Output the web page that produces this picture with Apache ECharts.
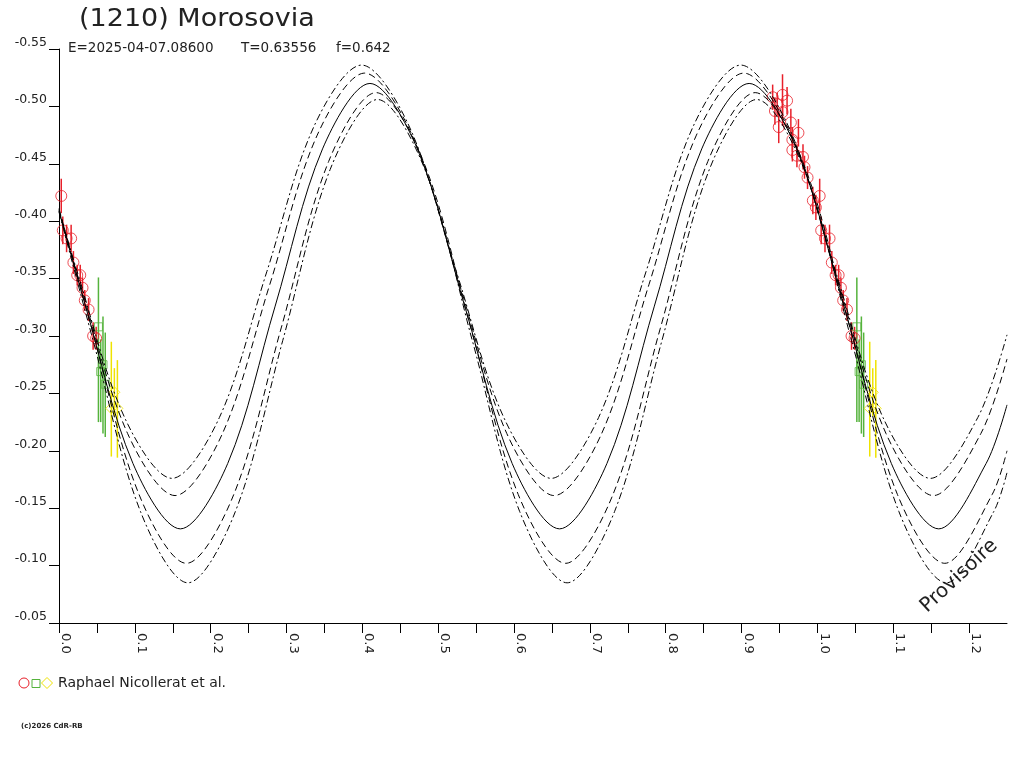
<!DOCTYPE html>
<html>
<head>
<meta charset="utf-8">
<title>(1210) Morosovia</title>
<script src="https://cdn.jsdelivr.net/npm/echarts@6/dist/echarts.min.js"></script>
<style>
    html, body { margin: 0; padding: 0; background: #fff; }
    #chart { width: 1024px; height: 768px; }
</style>
</head>
<body>
<div id="chart"></div>
<script>
// Fitted curves, [phase, mag] (A/E dash-dot, B/D dashed, C solid)
const fitA = [[0, -0.410], [0.024, -0.356], [0.0865, -0.229], [0.149, -0.176], [0.2115, -0.229], [0.274, -0.356],
    [0.3365, -0.483], [0.399, -0.536], [0.4615, -0.483], [0.524, -0.356], [0.5865, -0.229], [0.649, -0.176],
    [0.7115, -0.229], [0.774, -0.356], [0.8365, -0.483], [0.899, -0.536], [0.9615, -0.483], [1.024, -0.356],
    [1.0865, -0.229], [1.149, -0.176], [1.2115, -0.229], [1.25, -0.301]];
const fitB = [[0, -0.409], [0.028, -0.345], [0.0905, -0.215], [0.153, -0.161], [0.2155, -0.215], [0.278, -0.345],
    [0.3405, -0.475], [0.403, -0.529], [0.4655, -0.475], [0.528, -0.345], [0.5905, -0.215], [0.653, -0.161],
    [0.7155, -0.215], [0.778, -0.345], [0.8405, -0.475], [0.903, -0.529], [0.9655, -0.475], [1.028, -0.345],
    [1.0905, -0.215], [1.153, -0.161], [1.2155, -0.215], [1.25, -0.280]];
const fitC = [[0, -0.409], [0.035, -0.326], [0.0975, -0.189], [0.160, -0.132], [0.2225, -0.189], [0.285, -0.326],
    [0.3475, -0.463], [0.410, -0.520], [0.4725, -0.463], [0.535, -0.326], [0.5975, -0.189], [0.660, -0.132],
    [0.7225, -0.189], [0.785, -0.326], [0.8475, -0.463], [0.910, -0.520], [0.9725, -0.463], [1.035, -0.326],
    [1.0975, -0.189], [1.160, -0.132], [1.2225, -0.189], [1.25, -0.240]];
const fitD = [[0, -0.411], [0.043, -0.307], [0.1055, -0.162], [0.168, -0.102], [0.2305, -0.162], [0.293, -0.307],
    [0.3555, -0.452], [0.418, -0.512], [0.4805, -0.452], [0.543, -0.307], [0.6055, -0.162], [0.668, -0.102],
    [0.7305, -0.162], [0.793, -0.307], [0.8555, -0.452], [0.918, -0.512], [0.9805, -0.452], [1.043, -0.307],
    [1.1055, -0.162], [1.168, -0.102], [1.2305, -0.162], [1.25, -0.200]];
const fitE = [[0, -0.408], [0.045, -0.296], [0.1075, -0.147], [0.170, -0.085], [0.2325, -0.147], [0.295, -0.296],
    [0.3575, -0.445], [0.420, -0.506], [0.4825, -0.445], [0.545, -0.296], [0.6075, -0.147], [0.670, -0.085],
    [0.7325, -0.147], [0.795, -0.296], [0.8575, -0.445], [0.920, -0.506], [0.9825, -0.445], [1.045, -0.296],
    [1.1075, -0.147], [1.170, -0.085], [1.2325, -0.147], [1.25, -0.181]];

// Observations (phase 0.94..1.08), drawn again one cycle earlier
const redPhase = [0.941, 0.954, 0.960, 0.944, 0.947, 0.954, 0.949, 0.965, 0.975, 0.967, 0.967, 0.973, 0.981, 0.983, 0.987,
    1.003, 0.994, 0.998, 1.005, 1.010, 1.016, 1.019, 1.024, 1.028, 1.031, 1.034, 1.039, 1.045, 1.049];
const redMag = [-0.508, -0.510, -0.505, -0.496, -0.502, -0.495, -0.482, -0.486, -0.477, -0.471, -0.462, -0.457, -0.456, -0.447, -0.438,
    -0.422, -0.418, -0.412, -0.392, -0.385, -0.385, -0.364, -0.353, -0.353, -0.342, -0.331, -0.323, -0.300, -0.298];
const redErr = [0.011, 0.018, 0.012, 0.012, 0.010, 0.012, 0.014, 0.012, 0.012, 0.011, 0.010, 0.010, 0.011, 0.010, 0.010,
    0.015, 0.012, 0.011, 0.012, 0.012, 0.012, 0.010, 0.009, 0.009, 0.009, 0.009, 0.010, 0.012, 0.010];

const greenPhase = [1.052, 1.055, 1.058, 1.061];
const greenMag = [-0.308, -0.269, -0.275, -0.258];
const greenTop = [-0.351, -0.297, -0.317, -0.303];
const greenBottom = [-0.225, -0.225, -0.215, -0.212];

const yellowPhase = [1.069, 1.077, 1.073];
const yellowMag = [-0.237, -0.237, -0.251];
const yellowTop = [-0.295, -0.279, -0.272];
const yellowBottom = [-0.195, -0.194, -0.230];

const RED = '#e8202a';
const GREEN = '#55b33c';
const YELLOW = '#efe300';
const FONT = 'DejaVu Sans';

const chart = echarts.init(document.getElementById('chart'));

function copies(p) {
    return [p - 1, p, p + 1].filter(q => q >= 0 && q <= 1.25);
}

function points(phases, mags) {
    const out = [];
    phases.forEach((p, i) => copies(p).forEach(q => out.push([q, mags[i]])));
    return out;
}

function bars(phases, tops, bottoms) {
    const out = [];
    phases.forEach((p, i) => copies(p).forEach(q => out.push([q, tops[i], bottoms[i]])));
    return out;
}

function curve(data, dash) {
    return {
        type: 'line',
        data: data,
        showSymbol: false,
        smooth: 0.33,
        silent: true,
        lineStyle: { color: '#000', width: 1, type: dash }
    };
}

function errorBars(data, color) {
    return {
        type: 'custom',
        data: data,
        silent: true,
        encode: { x: 0, y: [1, 2] },
        renderItem: (params, api) => {
            const a = api.coord([api.value(0), api.value(1)]);
            const b = api.coord([api.value(0), api.value(2)]);
            return {
                type: 'line',
                shape: { x1: a[0], y1: a[1], x2: b[0], y2: b[1] },
                style: { stroke: color, lineWidth: 1.5 }
            };
        }
    };
}

function markers(data, symbol, size, color) {
    return {
        type: 'scatter',
        data: data,
        symbol: symbol,
        symbolSize: size,
        silent: true,
        itemStyle: { color: 'rgba(0,0,0,0)', borderColor: color, borderWidth: 1 }
    };
}

const redTop = redMag.map((m, i) => m - redErr[i]);
const redBottom = redMag.map((m, i) => m + redErr[i]);

chart.setOption({
    backgroundColor: '#fff',
    animation: false,
    grid: { left: 59, right: 17, top: 49, bottom: 145, containLabel: false, outerBoundsMode: 'none' },
    xAxis: {
        type: 'value',
        min: 0,
        max: 1.25,
        interval: 0.05,
        splitLine: { show: false },
        axisLine: { lineStyle: { color: '#000', width: 1 } },
        axisTick: { length: 10, lineStyle: { color: '#000' } },
        axisLabel: {
            rotate: -90,
            margin: 10,
            verticalAlign: 'bottom',
            fontFamily: FONT,
            fontSize: 13,
            color: '#222',
            showMaxLabel: false,
            formatter: v => Math.abs(v * 10 - Math.round(v * 10)) < 1e-6 ? v.toFixed(1) : ''
        }
    },
    yAxis: {
        type: 'value',
        inverse: true,
        min: -0.55,
        max: -0.05,
        interval: 0.05,
        splitLine: { show: false },
        axisLine: { show: true, lineStyle: { color: '#000', width: 1 } },
        axisTick: { show: true, length: 10, lineStyle: { color: '#000' } },
        axisLabel: {
            margin: 12,
            verticalAlign: 'bottom',
            fontFamily: FONT,
            fontSize: 12.5,
            color: '#222',
            formatter: v => v.toFixed(2)
        }
    },
    series: [
        curve(fitA, [7, 3, 2, 3]),
        curve(fitB, [7, 4]),
        curve(fitC, 'solid'),
        curve(fitD, [7, 4]),
        curve(fitE, [7, 3, 2, 3]),
        errorBars(bars(redPhase, redTop, redBottom), RED),
        errorBars(bars(greenPhase, greenTop, greenBottom), GREEN),
        errorBars(bars(yellowPhase, yellowTop, yellowBottom), YELLOW),
        markers(points(redPhase, redMag), 'circle', 11, RED),
        markers(points(greenPhase, greenMag), 'rect', 8, GREEN),
        markers(points(yellowPhase, yellowMag), 'diamond', 11, YELLOW)
    ],
    graphic: [
        { type: 'text', x: 79, y: 19, scaleX: 1.08, style: { text: '(1210) Morosovia', fontFamily: FONT, fontSize: 25, fill: '#222', verticalAlign: 'middle' } },
        { type: 'text', x: 68, y: 48, style: { text: 'E=2025-04-07.08600', fontFamily: FONT, fontSize: 13.5, fill: '#222', verticalAlign: 'middle' } },
        { type: 'text', x: 241, y: 48, style: { text: 'T=0.63556', fontFamily: FONT, fontSize: 13.5, fill: '#222', verticalAlign: 'middle' } },
        { type: 'text', x: 336, y: 48, style: { text: 'f=0.642', fontFamily: FONT, fontSize: 13.5, fill: '#222', verticalAlign: 'middle' } },
        { type: 'circle', shape: { cx: 24, cy: 683, r: 5 }, style: { fill: 'none', stroke: RED, lineWidth: 1 } },
        { type: 'rect', shape: { x: 32, y: 679.5, width: 8, height: 8 }, style: { fill: 'none', stroke: GREEN, lineWidth: 1 } },
        { type: 'polygon', shape: { points: [[47, 677.5], [52.5, 683], [47, 688.5], [41.5, 683]] }, style: { fill: 'none', stroke: YELLOW, lineWidth: 1 } },
        { type: 'text', x: 58, y: 683, style: { text: 'Raphael Nicollerat et al.', fontFamily: FONT, fontSize: 14, fill: '#222', verticalAlign: 'middle' } },
        { type: 'text', x: 21, y: 726, style: { text: '(c)2026 CdR-RB', fontFamily: FONT, fontSize: 7, fontWeight: 'bold', fill: '#222', verticalAlign: 'middle' } },
        { type: 'text', x: 959, y: 576, rotation: 0.75, style: { text: 'Provisoire', fontFamily: FONT, fontSize: 20, fill: '#222', align: 'center', verticalAlign: 'middle' } }
    ]
});
</script>
</body>
</html>
